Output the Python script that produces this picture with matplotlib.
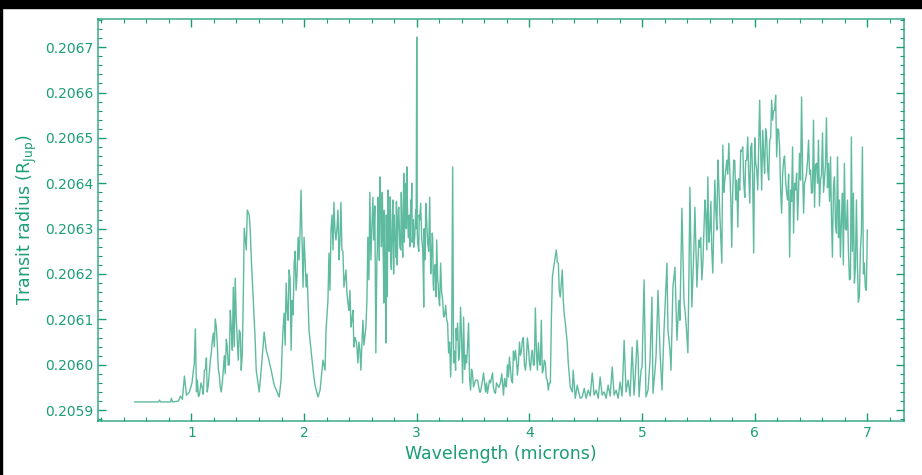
import matplotlib
matplotlib.use("Agg")
import matplotlib.pyplot as plt
from matplotlib.ticker import MultipleLocator, FormatStrFormatter
from matplotlib.patches import Rectangle

wavelength = [
    0.496, 0.646, 0.708, 0.717, 0.726, 0.814, 0.823, 0.832, 0.885, 0.903, 0.920, 0.938, 0.956, 0.982,
    1.000, 1.018, 1.035, 1.053, 1.071, 1.097, 1.115, 1.133, 1.150, 1.168, 1.186, 1.212, 1.230, 1.248,
    1.265, 1.283, 1.310, 1.327, 1.345, 1.363, 1.372, 1.389, 1.407, 1.425, 1.442, 1.460, 1.469, 1.487,
    1.496, 1.513, 1.522, 1.531, 1.549, 1.566, 1.575, 1.602, 1.619, 1.646, 1.664, 1.681, 1.708, 1.735,
    1.761, 1.779, 1.796, 1.805, 1.823, 1.832, 1.841, 1.858, 1.867, 1.885, 1.894, 1.912, 1.929, 1.947,
    1.956, 1.973, 1.982, 1.991, 2.000, 2.018, 2.035, 2.044, 2.062, 2.080, 2.097, 2.124, 2.142, 2.168,
    2.186, 2.195, 2.212, 2.221, 2.230, 2.239, 2.257, 2.265, 2.274, 2.283, 2.301, 2.310, 2.327, 2.336,
    2.354, 2.372, 2.389, 2.407, 2.416, 2.434, 2.442, 2.460, 2.478, 2.496, 2.504, 2.522, 2.531, 2.549,
    2.558, 2.566, 2.575, 2.584, 2.593, 2.611, 2.619, 2.637, 2.646, 2.655, 2.664, 2.673, 2.690, 2.699,
    2.708, 2.717, 2.726, 2.735, 2.743, 2.761, 2.770, 2.788, 2.805, 2.814, 2.832, 2.841, 2.858, 2.876,
    2.885, 2.894, 2.912, 2.920, 2.929, 2.947, 2.956, 2.965, 2.973, 2.991, 3.000, 3.009, 3.027, 3.035,
    3.053, 3.062, 3.071, 3.080, 3.097, 3.115, 3.133, 3.142, 3.150, 3.168, 3.177, 3.186, 3.195, 3.212,
    3.230, 3.239, 3.257, 3.274, 3.283, 3.301, 3.310, 3.319, 3.327, 3.345, 3.354, 3.363, 3.381, 3.389,
    3.407, 3.416, 3.434, 3.442, 3.460, 3.478, 3.496, 3.504, 3.522, 3.540, 3.558, 3.566, 3.584, 3.593,
    3.611, 3.628, 3.646, 3.673, 3.690, 3.699, 3.717, 3.743, 3.770, 3.788, 3.796, 3.814, 3.823, 3.841,
    3.850, 3.867, 3.876, 3.894, 3.903, 3.920, 3.938, 3.956, 3.965, 3.982, 4.000, 4.009, 4.027, 4.044,
    4.053, 4.062, 4.071, 4.080, 4.097, 4.106, 4.115, 4.133, 4.142, 4.159, 4.168, 4.186, 4.195, 4.204,
    4.221, 4.239, 4.248, 4.257, 4.265, 4.274, 4.292, 4.301, 4.310, 4.319, 4.336, 4.345, 4.363, 4.381,
    4.389, 4.407, 4.425, 4.434, 4.451, 4.469, 4.487, 4.504, 4.522, 4.540, 4.558, 4.575, 4.593, 4.611,
    4.628, 4.646, 4.664, 4.681, 4.699, 4.717, 4.735, 4.752, 4.770, 4.788, 4.805, 4.823, 4.841, 4.858,
    4.876, 4.894, 4.912, 4.929, 4.938, 4.956, 4.965, 4.973, 4.991, 5.000, 5.018, 5.035, 5.053, 5.071,
    5.088, 5.097, 5.115, 5.124, 5.142, 5.159, 5.177, 5.195, 5.204, 5.221, 5.230, 5.248, 5.257, 5.274,
    5.292, 5.310, 5.327, 5.336, 5.354, 5.372, 5.389, 5.407, 5.416, 5.425, 5.442, 5.460, 5.469, 5.487,
    5.504, 5.513, 5.531, 5.540, 5.558, 5.575, 5.584, 5.602, 5.619, 5.628, 5.646, 5.664, 5.673, 5.690,
    5.708, 5.717, 5.735, 5.752, 5.770, 5.788, 5.796, 5.814, 5.832, 5.841, 5.850, 5.867, 5.876, 5.894,
    5.912, 5.929, 5.938, 5.956, 5.973, 5.991, 6.009, 6.027, 6.044, 6.053, 6.062, 6.071, 6.088, 6.106,
    6.124, 6.133, 6.150, 6.159, 6.177, 6.186, 6.195, 6.212, 6.230, 6.239, 6.257, 6.274, 6.292, 6.310,
    6.319, 6.336, 6.345, 6.363, 6.372, 6.381, 6.398, 6.407, 6.416, 6.434, 6.451, 6.460, 6.478, 6.496,
    6.504, 6.522, 6.531, 6.549, 6.566, 6.584, 6.602, 6.619, 6.637, 6.655, 6.673, 6.690, 6.708, 6.726,
    6.735, 6.752, 6.761, 6.779, 6.796, 6.814, 6.823, 6.841, 6.858, 6.876, 6.894, 6.903, 6.920, 6.938,
    6.947, 6.956, 6.973, 6.991, 7.000,
]

transit_radius = [
    0.205918, 0.205918, 0.205918, 0.205922, 0.205918, 0.205918, 0.205926, 0.205918, 0.205920, 0.205931, 0.205924, 0.205975, 0.205933, 0.205940,
    0.205955, 0.205988, 0.206079, 0.205966, 0.205933, 0.205948, 0.205988, 0.206015, 0.205955, 0.206010, 0.206054, 0.206101, 0.206043, 0.205977,
    0.205940, 0.205988, 0.206056, 0.205999, 0.206120, 0.206032, 0.206171, 0.206191, 0.206054, 0.206076, 0.205988, 0.206142, 0.206301, 0.206253,
    0.206341, 0.206330, 0.206297, 0.206237, 0.206142, 0.206054, 0.205988, 0.205940, 0.205988, 0.206072, 0.206032, 0.206017, 0.205988, 0.205955,
    0.205940, 0.205929, 0.205966, 0.206032, 0.206114, 0.206043, 0.206180, 0.206098, 0.206209, 0.206032, 0.206142, 0.206224, 0.206164, 0.206281,
    0.206231, 0.206385, 0.206275, 0.206171, 0.206281, 0.206171, 0.206142, 0.206076, 0.206032, 0.205988, 0.205955, 0.205929, 0.205944, 0.206010,
    0.205988, 0.206076, 0.206142, 0.206246, 0.206164, 0.206297, 0.206253, 0.206358, 0.206297, 0.206275, 0.206341, 0.206231, 0.206358, 0.206253,
    0.206171, 0.206209, 0.206136, 0.206164, 0.206083, 0.206120, 0.206039, 0.206054, 0.206004, 0.206032, 0.205988, 0.206098, 0.206043, 0.206083,
    0.206142, 0.206281, 0.206187, 0.206380, 0.206231, 0.206369, 0.206275, 0.206026, 0.206231, 0.206369, 0.206297, 0.206414, 0.206319, 0.206281,
    0.206136, 0.206231, 0.206048, 0.206253, 0.206385, 0.206297, 0.206231, 0.206363, 0.206275, 0.206237, 0.206297, 0.206347, 0.206253, 0.206237,
    0.206422, 0.206319, 0.206436, 0.206330, 0.206281, 0.206363, 0.206400, 0.206297, 0.206259, 0.206341, 0.206722, 0.206268, 0.206319, 0.206356,
    0.206253, 0.206127, 0.206231, 0.206356, 0.206268, 0.206369, 0.206253, 0.206275, 0.206164, 0.206220, 0.206275, 0.206187, 0.206149, 0.206224,
    0.206142, 0.206105, 0.206131, 0.206092, 0.206026, 0.205973, 0.206054, 0.206436, 0.206004, 0.205988, 0.206054, 0.206092, 0.206032, 0.206127,
    0.205960, 0.206105, 0.206021, 0.206004, 0.206092, 0.205944, 0.205977, 0.205951, 0.205966, 0.205966, 0.205940, 0.205940, 0.205966, 0.205982,
    0.205940, 0.205937, 0.205966, 0.205982, 0.205940, 0.205937, 0.205955, 0.205960, 0.205933, 0.205955, 0.205951, 0.205973, 0.206017, 0.205966,
    0.205960, 0.206010, 0.206032, 0.205977, 0.206004, 0.206021, 0.206054, 0.205999, 0.205988, 0.206059, 0.206006, 0.205988, 0.206032, 0.205999,
    0.206125, 0.206032, 0.205988, 0.206048, 0.205999, 0.206098, 0.205982, 0.206010, 0.206004, 0.205966, 0.205944, 0.205960, 0.206098, 0.206193,
    0.206224, 0.206253, 0.206226, 0.206224, 0.206164, 0.206149, 0.206209, 0.206142, 0.206109, 0.206092, 0.206048, 0.206004, 0.205951, 0.205940,
    0.205988, 0.205926, 0.205955, 0.205944, 0.205926, 0.205929, 0.205948, 0.205926, 0.205944, 0.205931, 0.205982, 0.205933, 0.205944, 0.205926,
    0.205973, 0.205933, 0.205940, 0.205926, 0.205955, 0.205931, 0.205995, 0.205933, 0.205944, 0.205926, 0.205962, 0.205931, 0.206054, 0.205940,
    0.205966, 0.205931, 0.206039, 0.205933, 0.205966, 0.206054, 0.206021, 0.205929, 0.205988, 0.205995, 0.206187, 0.205929, 0.205944, 0.206010,
    0.206149, 0.205937, 0.205988, 0.206017, 0.206164, 0.206032, 0.205944, 0.206076, 0.206127, 0.206224, 0.206076, 0.206032, 0.205988, 0.206171,
    0.206215, 0.206054, 0.206142, 0.206098, 0.206345, 0.206142, 0.206098, 0.206026, 0.206193, 0.206391, 0.206127, 0.206253, 0.206347, 0.206171,
    0.206275, 0.206259, 0.206187, 0.206224, 0.206363, 0.206253, 0.206414, 0.206297, 0.206253, 0.206202, 0.206407, 0.206297, 0.206451, 0.206334,
    0.206224, 0.206484, 0.206407, 0.206451, 0.206488, 0.206363, 0.206259, 0.206451, 0.206363, 0.206407, 0.206303, 0.206385, 0.206473, 0.206480,
    0.206369, 0.206451, 0.206502, 0.206356, 0.206488, 0.206246, 0.206444, 0.206385, 0.206583, 0.206473, 0.206385, 0.206517, 0.206422, 0.206502,
    0.206407, 0.206495, 0.206583, 0.206539, 0.206561, 0.206594, 0.206458, 0.206517, 0.206385, 0.206334, 0.206451, 0.206407, 0.206363, 0.206237,
    0.206385, 0.206480, 0.206290, 0.206385, 0.206422, 0.206319, 0.206466, 0.206407, 0.206590, 0.206334, 0.206407, 0.206422, 0.206495, 0.206429,
    0.206378, 0.206539, 0.206347, 0.206444, 0.206495, 0.206407, 0.206511, 0.206407, 0.206544, 0.206444, 0.206458, 0.206237, 0.206414, 0.206290,
    0.206458, 0.206363, 0.206237, 0.206378, 0.206444, 0.206297, 0.206363, 0.206187, 0.206502, 0.206378, 0.206215, 0.206363, 0.206138, 0.206253,
    0.206290, 0.206480, 0.206224, 0.206164, 0.206297,
]

# extra samples read from the densely filled parts of the spectrum
extra_wavelength = [
    1.005, 1.025, 1.045, 1.062, 1.085, 1.105, 1.125, 1.140, 1.158, 1.178, 1.195, 1.203, 1.222, 1.239,
    1.256, 1.274, 1.292, 1.300, 1.318, 1.336, 1.354, 1.380, 1.398, 1.416, 1.434, 1.451,
    1.814, 1.850, 1.876, 1.903, 1.920, 1.938, 1.965, 2.009, 2.027,
    2.248, 2.292, 2.318, 2.345, 2.363, 2.380, 2.398, 2.425, 2.451, 2.469, 2.487,
    2.602, 2.628, 2.650, 2.660, 2.668, 2.681, 2.686, 2.695, 2.704, 2.712, 2.722, 2.730, 2.739, 2.748,
    2.756, 2.765, 2.775, 2.783, 2.795, 2.800, 2.810, 2.820, 2.827, 2.836, 2.850, 2.863, 2.870, 2.880,
    2.890, 2.900, 2.908, 2.916, 2.925, 2.935, 2.942, 2.952, 2.960, 2.970, 2.982, 2.995, 3.005, 3.018,
    3.022, 3.044, 3.058, 3.066, 3.075, 3.088, 3.106, 3.124, 3.138, 3.146, 3.159, 3.172, 3.182, 3.190,
    3.203, 3.221, 3.248, 3.265, 3.292,
    3.336, 3.350, 3.372, 3.398, 3.425, 3.451, 3.469, 3.487,
    3.620, 3.655, 3.681, 3.708, 3.730, 3.755, 3.780, 3.805, 3.832, 3.858, 3.885, 3.912, 3.929, 3.947,
    3.973, 3.991, 4.018, 4.035, 4.088, 4.124, 4.150, 4.177,
    5.520, 5.566, 5.593, 5.611, 5.655, 5.681, 5.726, 5.761, 5.805, 5.823, 5.858, 5.885, 5.903, 5.920,
    5.947, 5.965, 5.982, 6.000, 6.018, 6.035, 6.080, 6.097, 6.115, 6.142, 6.168, 6.204, 6.221, 6.248,
    6.265, 6.283, 6.301, 6.327, 6.354, 6.389, 6.425, 6.442, 6.469, 6.487, 6.513, 6.540, 6.558, 6.575,
    6.593, 6.611, 6.628, 6.646, 6.664, 6.681, 6.699, 6.717, 6.744, 6.770, 6.787, 6.805, 6.832, 6.850,
    6.867, 6.885, 6.912, 6.929, 6.965, 6.982,
]

extra_radius = [
    0.205960, 0.206000, 0.205940, 0.205930, 0.205960, 0.205935, 0.205990, 0.205940, 0.205980, 0.206030, 0.206070, 0.206040, 0.206080, 0.205990,
    0.205950, 0.205960, 0.206020, 0.205980, 0.206040, 0.206000, 0.206080, 0.206040, 0.206100, 0.206010, 0.206070, 0.206020,
    0.206080, 0.206120, 0.206190, 0.206110, 0.206250, 0.206200, 0.206300, 0.206230, 0.206200,
    0.206330, 0.206300, 0.206270, 0.206250, 0.206190, 0.206160, 0.206120, 0.206100, 0.206060, 0.206040, 0.206050,
    0.206300, 0.206350, 0.206250, 0.206330, 0.206230, 0.206360, 0.206260, 0.206380, 0.206220, 0.206340, 0.206200, 0.206330, 0.206150, 0.206340,
    0.206250, 0.206370, 0.206210, 0.206320, 0.206200, 0.206330, 0.206280, 0.206360, 0.206220, 0.206340, 0.206260, 0.206380, 0.206280, 0.206340,
    0.206270, 0.206400, 0.206300, 0.206360, 0.206280, 0.206330, 0.206260, 0.206340, 0.206270, 0.206320, 0.206280, 0.206300, 0.206290, 0.206250,
    0.206330, 0.206280, 0.206200, 0.206300, 0.206240, 0.206320, 0.206250, 0.206200, 0.206290, 0.206180, 0.206220, 0.206150, 0.206230, 0.206180,
    0.206130, 0.206160, 0.206110, 0.206100, 0.206050,
    0.206030, 0.206080, 0.206010, 0.206060, 0.205990, 0.206040, 0.205970, 0.205990,
    0.205960, 0.205960, 0.205950, 0.205960, 0.205950, 0.205980, 0.205970, 0.206000, 0.205990, 0.206030, 0.206010, 0.206050, 0.206030, 0.206060,
    0.206010, 0.206040, 0.206020, 0.206000, 0.206010, 0.205990, 0.205970, 0.205960,
    0.206280, 0.206330, 0.206270, 0.206360, 0.206340, 0.206400, 0.206380, 0.206420, 0.206380, 0.206450, 0.206410, 0.206470, 0.206400, 0.206450,
    0.206420, 0.206480, 0.206410, 0.206500, 0.206430, 0.206480, 0.206460, 0.206520, 0.206430, 0.206500, 0.206560, 0.206520, 0.206480, 0.206420,
    0.206460, 0.206380, 0.206420, 0.206360, 0.206400, 0.206380, 0.206430, 0.206400, 0.206450, 0.206420, 0.206380, 0.206440, 0.206400, 0.206350,
    0.206420, 0.206380, 0.206440, 0.206390, 0.206360, 0.206330, 0.206390, 0.206310, 0.206280, 0.206320, 0.206220, 0.206300, 0.206250, 0.206190,
    0.206250, 0.206180, 0.206220, 0.206150, 0.206200, 0.206170,
]

GREEN = "#1b9e77"

pairs = sorted(zip(wavelength + extra_wavelength, transit_radius + extra_radius))
wl_all = [p[0] for p in pairs]
r_all = [p[1] for p in pairs]

fig = plt.figure(figsize=(9.22, 4.75), dpi=100)
fig.patch.set_facecolor("white")
ax = fig.add_axes([98 / 922, 1 - 421 / 475, (904 - 98) / 922, (421 - 19) / 475])

ax.plot(wl_all, r_all, color=GREEN, alpha=0.7, lw=1.0)

ax.margins(x=0.05, y=0.05)
ax.xaxis.set_major_locator(MultipleLocator(1))
ax.xaxis.set_minor_locator(MultipleLocator(0.2))
ax.yaxis.set_major_locator(MultipleLocator(0.0001))
ax.yaxis.set_minor_locator(MultipleLocator(0.00002))
ax.yaxis.set_major_formatter(FormatStrFormatter("%.4f"))
ax.set_ylim(0.205876, 0.206762)

ax.tick_params(which="both", direction="in", top=True, right=True, colors=GREEN, labelcolor=GREEN, labelsize=10)
ax.tick_params(which="major", length=6, width=1)
ax.tick_params(which="minor", length=3, width=0.8)
for sp in ax.spines.values():
    sp.set_color(GREEN)
    sp.set_alpha(0.8)
    sp.set_linewidth(1.2)

ax.set_xlabel("Wavelength (microns)", color=GREEN, fontsize=12.5)
ax.set_ylabel(r"Transit radius (R$_{\rm Jup}$)", color=GREEN, fontsize=12.5)

# dark frame strips around the picture
fig.patches.append(Rectangle((0, 1 - 8 / 475), 1, 8 / 475, transform=fig.transFigure, color="black", zorder=10))
fig.patches.append(Rectangle((0, 0), 2 / 922, 1, transform=fig.transFigure, color="black", zorder=10))

fig.savefig("out.png", dpi=100)
